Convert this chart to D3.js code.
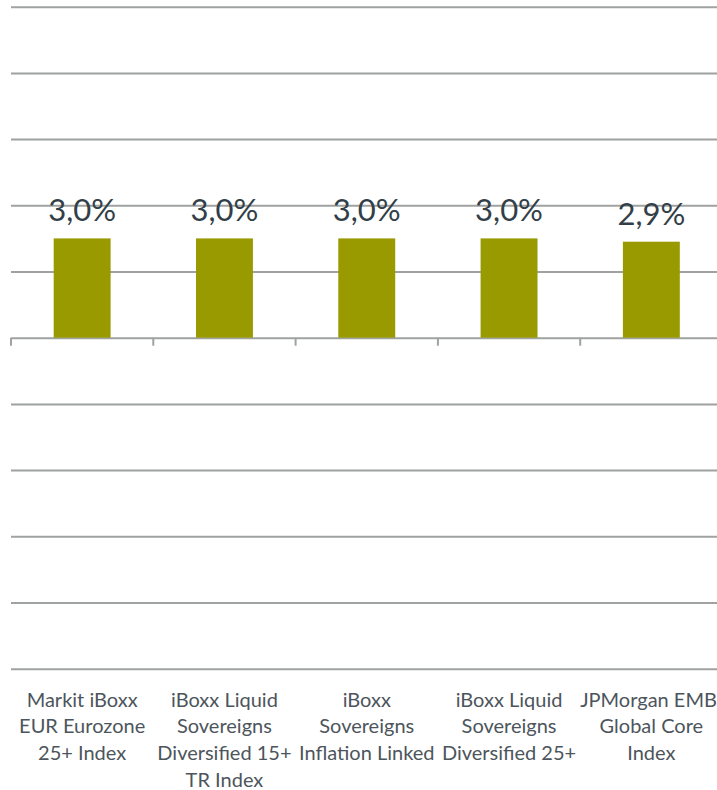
<!DOCTYPE html>
<html>
<head>
<meta charset="utf-8">
<script src="https://cdn.jsdelivr.net/npm/d3@7"></script>
<style>
    body { margin: 0; background: #fff; }
    svg { display: block; }
    .grid line { stroke: #9ea2a0; stroke-width: 2px; }
    .grid .domain { display: none; }
    .bar { fill: #999900; }
    .value { font-family: Lato, sans-serif; font-size: 31px; fill: #333f48; text-anchor: middle; }
    .cat { font-family: Lato, sans-serif; font-size: 20px; fill: #4d555c; text-anchor: middle; }
</style>
</head>
<body>
<div id="chart"></div>
<script>
const WIDTH = 717;
const HEIGHT = 790;

// data
const categories = [
    "Markit iBoxx EUR Eurozone 25+ Index",
    "iBoxx Liquid Sovereigns Diversified 15+ TR Index",
    "iBoxx Sovereigns Inflation Linked",
    "iBoxx Liquid Sovereigns Diversified 25+",
    "JPMorgan EMBI Global Core Index"
];
const categoryLines = [
    ["Markit iBoxx", "EUR Eurozone", "25+ Index"],
    ["iBoxx Liquid", "Sovereigns", "Diversified 15+", "TR Index"],
    ["iBoxx", "Sovereigns", "Inflation Linked"],
    ["iBoxx Liquid", "Sovereigns", "Diversified 25+"],
    ["JPMorgan EMBI", "Global Core", "Index"]
];
const values = [3.0, 3.0, 3.0, 3.0, 2.9];
const valueLabels = ["3,0%", "3,0%", "3,0%", "3,0%", "2,9%"];
const yTicks = [-10, -8, -6, -4, -2, 0, 2, 4, 6, 8, 10];

const margin = {top: 6.7, left: 11, bottom: 121.3};
const bandStep = 142.3;

const svg = d3.select("#chart").append("svg")
    .attr("width", WIDTH)
    .attr("height", HEIGHT);

const x = d3.scaleBand()
    .domain(categories)
    .range([margin.left, margin.left + bandStep * categories.length]);

const y = d3.scaleLinear()
    .domain([-10, 10])
    .range([HEIGHT - margin.bottom, margin.top]);

// gridlines
svg.append("g")
    .attr("class", "grid")
    .attr("transform", "translate(" + margin.left + ",0)")
    .call(d3.axisLeft(y).tickValues(yTicks).tickSize(-(WIDTH - margin.left)).tickFormat(""));

// category separators below the zero line
svg.append("g").selectAll("line")
    .data(categories)
    .join("line")
    .attr("x1", d => x(d))
    .attr("x2", d => x(d))
    .attr("y1", y(0))
    .attr("y2", y(0) + 8)
    .attr("stroke", "#9ea2a0")
    .attr("stroke-width", 2);

const barW = x.bandwidth() * 0.4;

svg.append("g").selectAll("rect")
    .data(values)
    .join("rect")
    .attr("class", "bar")
    .attr("x", (d, i) => x(categories[i]) + (x.bandwidth() - barW) / 2)
    .attr("y", d => y(d))
    .attr("width", barW)
    .attr("height", d => y(0) - y(d));

svg.append("g").selectAll("text")
    .data(values)
    .join("text")
    .attr("class", "value")
    .attr("x", (d, i) => x(categories[i]) + x.bandwidth() / 2)
    .attr("y", d => y(d) - 17)
    .text((d, i) => valueLabels[i]);

// category labels
const cat = svg.append("g").selectAll("text")
    .data(categories)
    .join("text")
    .attr("class", "cat")
    .attr("x", d => x(d) + x.bandwidth() / 2)
    .attr("y", 706.7);

cat.selectAll("tspan")
    .data((d, i) => categoryLines[i])
    .join("tspan")
    .attr("x", function () { return this.parentNode.getAttribute("x"); })
    .attr("dy", (d, i) => i === 0 ? 0 : 26.7)
    .text(d => d);
</script>
</body>
</html>
